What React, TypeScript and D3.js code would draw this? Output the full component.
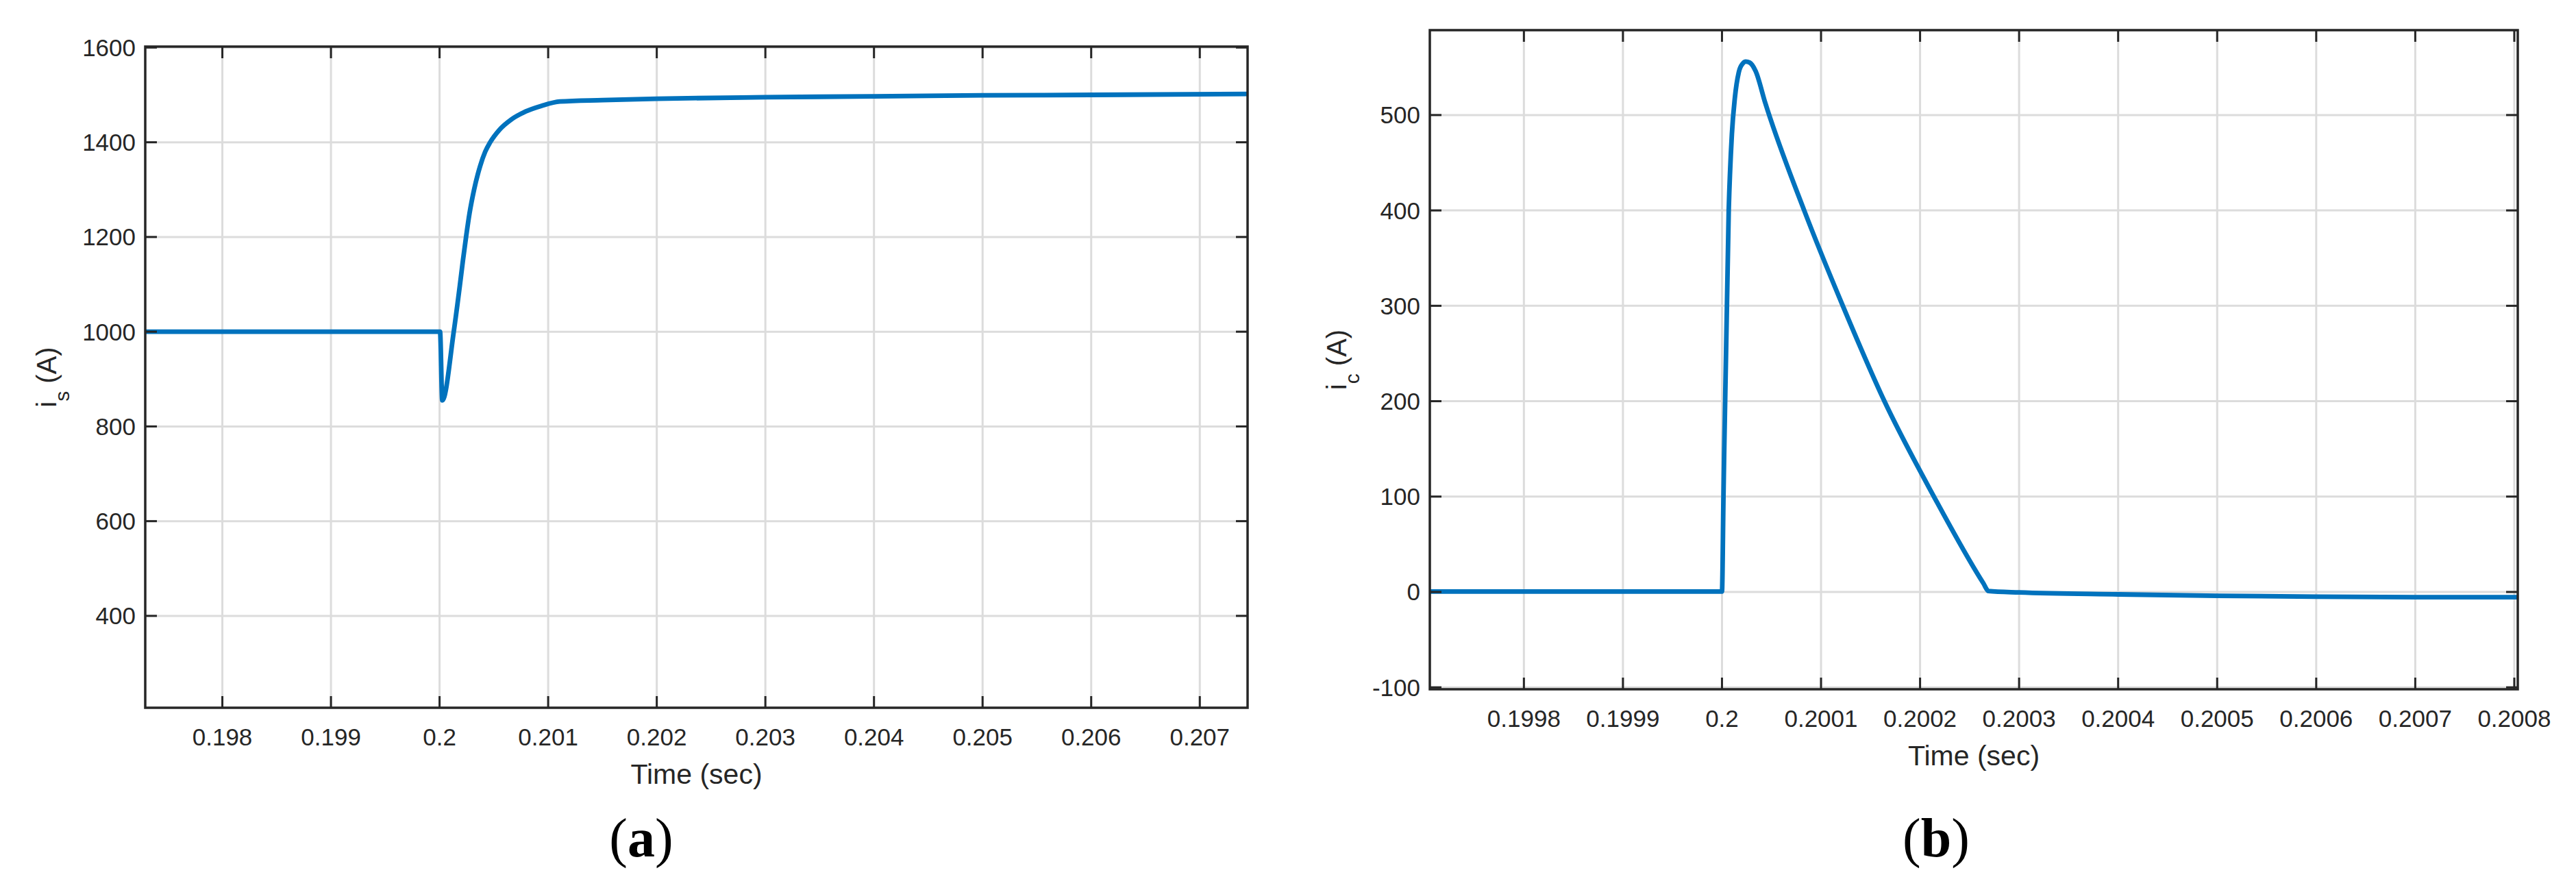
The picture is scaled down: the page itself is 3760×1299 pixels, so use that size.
import * as d3 from 'd3'

// (a) source current i_s
const isTime = [
  0.19729, 0.1985, 0.1995, 0.2, 0.2000045, 0.200025, 0.20013, 0.200187, 0.200215, 0.200244, 0.200276,
  0.200318, 0.200374, 0.20042, 0.200466, 0.20055, 0.20066, 0.200793, 0.20094, 0.201108, 0.2015, 0.202,
  0.203, 0.204, 0.205, 0.206, 0.20744,
]
const isCurrent = [
  1000, 1000, 1000, 1000, 1000, 855, 999, 1098, 1150, 1200, 1250, 1300, 1350, 1380, 1400, 1426, 1448,
  1465, 1477, 1486, 1489, 1492, 1495, 1497, 1499, 1500, 1502,
]
const isXTicks = [0.198, 0.199, 0.2, 0.201, 0.202, 0.203, 0.204, 0.205, 0.206, 0.207]
const isXTickLabels = ['0.198', '0.199', '0.2', '0.201', '0.202', '0.203', '0.204', '0.205', '0.206', '0.207']
const isYTicks = [400, 600, 800, 1000, 1200, 1400, 1600]
const isYTickLabels = ['400', '600', '800', '1000', '1200', '1400', '1600']

// (b) capacitor current i_c
const icTime = [
  0.199705, 0.1999, 0.2, 0.2000015, 0.2000068, 0.20001, 0.200013, 0.200017, 0.200021, 0.200024,
  0.200028, 0.200034, 0.2000436, 0.200083, 0.200122, 0.200164, 0.200214, 0.200264, 0.200269, 0.2003,
  0.2004, 0.2005, 0.2006, 0.2007, 0.2008035,
]
const icCurrent = [
  0.5, 0.5, 0.5, 100, 400, 480, 518, 545, 554, 556, 555, 546, 513, 400, 300, 200, 100, 9, 1, -0.5, -2.5,
  -4, -5, -5.5, -5.5,
]
const icXTicks = [0.1998, 0.1999, 0.2, 0.2001, 0.2002, 0.2003, 0.2004, 0.2005, 0.2006, 0.2007, 0.2008]
const icXTickLabels = [
  '0.1998', '0.1999', '0.2', '0.2001', '0.2002', '0.2003', '0.2004', '0.2005', '0.2006', '0.2007', '0.2008',
]
const icYTicks = [-100, 0, 100, 200, 300, 400, 500]
const icYTickLabels = ['-100', '0', '100', '200', '300', '400', '500']

const axisColor = '#262626'
const gridColor = '#dcdcdc'
const lineColor = '#0072bd'
const sans = '"Liberation Sans", Arial, sans-serif'

function Panel({ id, box, xDomain, yDomain, xTicks, xTickLabels, yTicks, yTickLabels, times, values, sub, labelX, caption, captionX }) {
  const { left, right, top, bottom } = box
  const x = d3.scaleLinear().domain(xDomain).range([left, right])
  const y = d3.scaleLinear().domain(yDomain).range([bottom, top])
  const line = d3
    .line<number>()
    .x((_, i) => x(times[i]))
    .y((d) => y(d))
    .curve(d3.curveMonotoneX)
  const tick = 17
  const midY = (top + bottom) / 2

  return (
    <g>
      <defs>
        <clipPath id={id}>
          <rect x={left} y={top} width={right - left} height={bottom - top} />
        </clipPath>
      </defs>
      {xTicks.map((t) => (
        <line key={'gx' + t} x1={x(t)} x2={x(t)} y1={top} y2={bottom} stroke={gridColor} strokeWidth={3} />
      ))}
      {yTicks.map((t) => (
        <line key={'gy' + t} x1={left} x2={right} y1={y(t)} y2={y(t)} stroke={gridColor} strokeWidth={3} />
      ))}
      <path d={line(values) || ''} fill="none" stroke={lineColor} strokeWidth={6.8} strokeLinejoin="round" clipPath={`url(#${id})`} />
      <rect x={left} y={top} width={right - left} height={bottom - top} fill="none" stroke={axisColor} strokeWidth={3.5} />
      {xTicks.map((t) => (
        <g key={'tx' + t} stroke={axisColor} strokeWidth={3}>
          <line x1={x(t)} x2={x(t)} y1={bottom} y2={bottom - tick} />
          <line x1={x(t)} x2={x(t)} y1={top} y2={top + tick} />
        </g>
      ))}
      {yTicks.map((t) => (
        <g key={'ty' + t} stroke={axisColor} strokeWidth={3}>
          <line x1={left} x2={left + tick} y1={y(t)} y2={y(t)} />
          <line x1={right} x2={right - tick} y1={y(t)} y2={y(t)} />
        </g>
      ))}
      {xTicks.map((t, i) => (
        <text key={'lx' + t} x={x(t)} y={bottom + 55} textAnchor="middle" fontFamily={sans} fontSize={35} fill={axisColor}>
          {xTickLabels[i]}
        </text>
      ))}
      {yTicks.map((t, i) => (
        <text key={'ly' + t} x={left - 14} y={y(t) + 12.5} textAnchor="end" fontFamily={sans} fontSize={35} fill={axisColor}>
          {yTickLabels[i]}
        </text>
      ))}
      <text x={(left + right) / 2} y={bottom + 111} textAnchor="middle" fontFamily={sans} fontSize={41} fill={axisColor}>
        Time (sec)
      </text>
      <text transform={`translate(${labelX},${midY}) rotate(-90)`} textAnchor="middle" fontFamily={sans} fontSize={40} fill={axisColor}>
        i
        <tspan fontSize={30} dy={19}>{sub}</tspan>
        <tspan dy={-19}> (A)</tspan>
      </text>
      <text x={captionX} y={1250} textAnchor="middle" fontFamily='"Liberation Serif", "Times New Roman", serif' fontSize={80} fill="#000">
        (<tspan fontWeight="bold">{caption}</tspan>)
      </text>
    </g>
  )
}

export default function App() {
  return (
    <div style={{ position: 'absolute', left: 0, top: 0, background: '#fff' }}>
      <svg width={3760} height={1299} style={{ display: 'block' }}>
        <rect width={3760} height={1299} fill="#fff" />
        <Panel
          id="clip-a"
          box={{ left: 212, right: 1821, top: 68, bottom: 1033 }}
          xDomain={[0.19729, 0.20744]}
          yDomain={[206, 1602]}
          xTicks={isXTicks}
          xTickLabels={isXTickLabels}
          yTicks={isYTicks}
          yTickLabels={isYTickLabels}
          times={isTime}
          values={isCurrent}
          sub="s"
          labelX={82}
          caption="a"
          captionX={936}
        />
        <Panel
          id="clip-b"
          box={{ left: 2087, right: 3675, top: 44, bottom: 1006 }}
          xDomain={[0.199705, 0.2008035]}
          yDomain={[-102, 589]}
          xTicks={icXTicks}
          xTickLabels={icXTickLabels}
          yTicks={icYTicks}
          yTickLabels={icYTickLabels}
          times={icTime}
          values={icCurrent}
          sub="c"
          labelX={1965}
          caption="b"
          captionX={2826}
        />
      </svg>
    </div>
  )
}
